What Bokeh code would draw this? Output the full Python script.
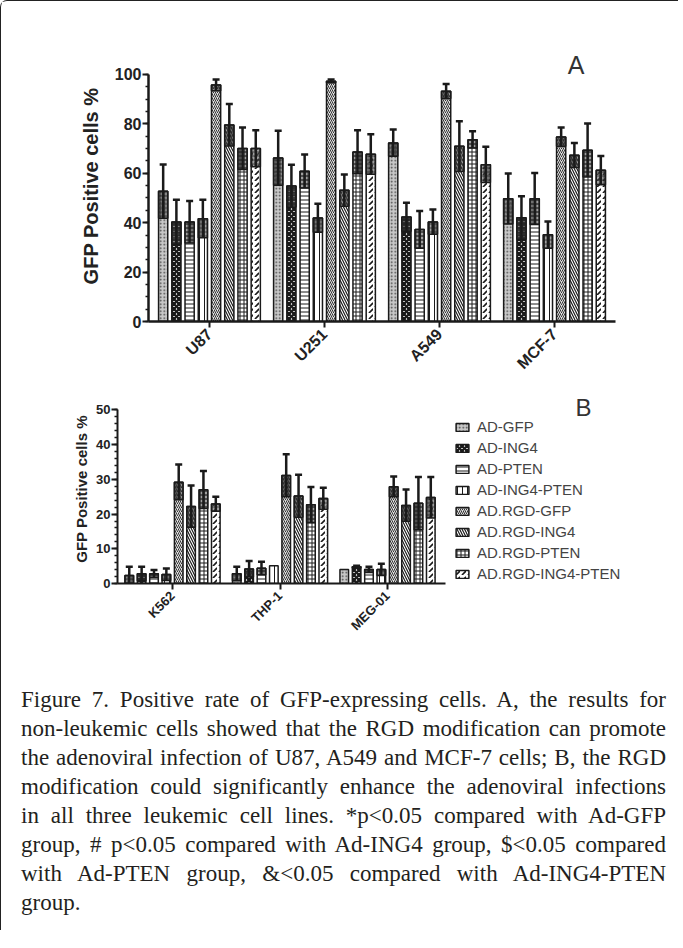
import html
from bokeh.plotting import figure
from bokeh.models import (ColumnDataSource, Range1d, FixedTicker, SingleIntervalTicker,
                          Legend, LegendItem, Label, Div, Spacer, Column)
from bokeh.embed import file_html
from bokeh.resources import INLINE

# ---------------- data ----------------
series = ["AD-GFP", "AD-ING4", "AD-PTEN", "AD-ING4-PTEN",
          "AD.RGD-GFP", "AD.RGD-ING4", "AD.RGD-PTEN", "AD.RGD-ING4-PTEN"]

cells_a = ["U87", "U251", "A549", "MCF-7"]
mean_a_gfp = [52.7, 66.2, 72.3, 49.7]
mean_a_ing4 = [40.3, 54.9, 42.3, 42.0]
mean_a_pten = [40.3, 60.8, 37.2, 49.7]
mean_a_ing4_pten = [41.6, 41.9, 40.3, 35.1]
mean_a_rgd_gfp = [95.7, 97.3, 93.2, 74.7]
mean_a_rgd_ing4 = [79.5, 53.1, 70.9, 67.3]
mean_a_rgd_pten = [70.0, 68.6, 73.6, 69.3]
mean_a_rgd_ing4_pten = [70.0, 67.7, 63.5, 61.2]
sd_a_gfp = [10.9, 11.0, 5.4, 10.2]
sd_a_ing4 = [9.0, 8.6, 5.8, 8.7]
sd_a_pten = [8.5, 6.8, 7.5, 10.4]
sd_a_ing4_pten = [7.7, 5.8, 5.0, 5.4]
sd_a_rgd_gfp = [2.3, 0.7, 2.9, 3.8]
sd_a_rgd_ing4 = [8.5, 6.4, 10.2, 5.0]
sd_a_rgd_pten = [8.5, 8.8, 3.4, 10.8]
sd_a_rgd_ing4_pten = [7.4, 8.1, 7.2, 5.8]

cells_b = ["K562", "THP-1", "MEG-01"]
mean_b_gfp = [2.3, 2.8, 4.0]
mean_b_ing4 = [2.8, 4.2, 4.8]
mean_b_pten = [2.8, 4.4, 4.0]
mean_b_ing4_pten = [2.6, 5.1, 4.0]
mean_b_rgd_gfp = [29.2, 31.1, 27.9]
mean_b_rgd_ing4 = [22.2, 25.2, 22.5]
mean_b_rgd_pten = [27.0, 22.7, 23.1]
mean_b_rgd_ing4_pten = [22.9, 24.5, 24.8]
sd_b_gfp = [2.5, 2.0, 0.0]
sd_b_ing4 = [2.0, 2.3, 0.3]
sd_b_pten = [1.1, 1.9, 0.8]
sd_b_ing4_pten = [1.7, 0.0, 1.7]
sd_b_rgd_gfp = [5.1, 6.1, 2.9]
sd_b_rgd_ing4 = [6.0, 6.1, 4.6]
sd_b_rgd_pten = [5.4, 5.1, 7.6]
sd_b_rgd_ing4_pten = [2.1, 3.1, 5.9]

means_a = [mean_a_gfp, mean_a_ing4, mean_a_pten, mean_a_ing4_pten,
           mean_a_rgd_gfp, mean_a_rgd_ing4, mean_a_rgd_pten, mean_a_rgd_ing4_pten]
sds_a = [sd_a_gfp, sd_a_ing4, sd_a_pten, sd_a_ing4_pten,
         sd_a_rgd_gfp, sd_a_rgd_ing4, sd_a_rgd_pten, sd_a_rgd_ing4_pten]
means_b = [mean_b_gfp, mean_b_ing4, mean_b_pten, mean_b_ing4_pten,
           mean_b_rgd_gfp, mean_b_rgd_ing4, mean_b_rgd_pten, mean_b_rgd_ing4_pten]
sds_b = [sd_b_gfp, sd_b_ing4, sd_b_pten, sd_b_ing4_pten,
         sd_b_rgd_gfp, sd_b_rgd_ing4, sd_b_rgd_pten, sd_b_rgd_ing4_pten]

caption_lines = [
    "Figure 7. Positive rate of GFP-expressing cells. A, the results for",
    "non-leukemic cells showed that the RGD modification can promote",
    "the adenoviral infection of U87, A549 and MCF-7 cells; B, the RGD",
    "modification could significantly enhance the adenoviral infections",
    "in all three leukemic cell lines. *p<0.05 compared with Ad-GFP",
    "group, # p<0.05 compared with Ad-ING4 group, $<0.05 compared",
    "with Ad-PTEN group, &<0.05 compared with Ad-ING4-PTEN",
    "group.",
]

# ---------------- styles ----------------
INK = "#1a1a1a"
FONT = "Liberation Sans"
PITCH = 0.115
BW = 0.08
styles = [
    dict(fill_color="#c8c8c8", hatch_pattern="dot", hatch_color="#444", hatch_scale=3.5, hatch_weight=1),
    dict(fill_color="white", hatch_pattern="diagonal_cross", hatch_color=INK, hatch_scale=5, hatch_weight=2.5),
    dict(fill_color="white", hatch_pattern="horizontal_line", hatch_color=INK, hatch_scale=4, hatch_weight=1),
    dict(fill_color="white", hatch_pattern="vertical_line", hatch_color=INK, hatch_scale=5, hatch_weight=1),
    dict(fill_color="#e0e0e0", hatch_pattern="right_diagonal_line", hatch_color="#333", hatch_scale=4, hatch_weight=1),
    dict(fill_color="white", hatch_pattern="left_diagonal_line", hatch_color=INK, hatch_scale=5, hatch_weight=1.2),
    dict(fill_color="white", hatch_pattern="cross", hatch_color=INK, hatch_scale=4, hatch_weight=1),
    dict(fill_color="white", hatch_pattern="right_diagonal_dash", hatch_color=INK, hatch_scale=6, hatch_weight=1.6),
]


def draw_bars(p, cats, means, sds):
    renderers = []
    for i, name in enumerate(series):
        xs = [g + (i - 3.5) * PITCH for g in range(len(cats))]
        m = means[i]
        s = sds[i]
        src = ColumnDataSource(dict(x=xs, top=m))
        r = p.vbar(x="x", top="top", bottom=0, width=BW, source=src,
                   line_color=INK, line_width=1.5, **styles[i])
        renderers.append(r)
        keep = [k for k in range(len(xs)) if s[k] > 0]
        esrc = ColumnDataSource(dict(x=[xs[k] for k in keep], top=[m[k] for k in keep],
                                     lo=[m[k] - s[k] for k in keep], hi=[m[k] + s[k] for k in keep]))
        p.vbar(x="x", top="top", bottom="lo", width=BW, source=esrc,
               fill_color="#505050", fill_alpha=0.55, hatch_pattern="cross",
               hatch_color=INK, hatch_scale=4, hatch_alpha=0.7,
               line_color=INK, line_width=1.5)
        p.segment(x0="x", y0="lo", x1="x", y1="hi", source=esrc, line_color=INK, line_width=2.5)
        p.scatter(x="x", y="hi", source=esrc, marker="dash", size=7, line_color=INK, line_width=2.5)
    return renderers


def style_axes(p, cats, tick_size, ylab_size, xlab_size, axis_w, standoff):
    p.xgrid.visible = False
    p.ygrid.visible = False
    p.outline_line_color = None
    for ax in (p.xaxis[0], p.yaxis[0]):
        ax.axis_line_width = axis_w
        ax.axis_line_color = INK
        ax.major_tick_line_width = 2
        ax.major_tick_line_color = INK
        ax.major_tick_out = 6
        ax.major_tick_in = 0
        ax.minor_tick_out = 3
        ax.minor_tick_in = 0
        ax.minor_tick_line_width = 1.5
        ax.minor_tick_line_color = INK
        ax.major_label_text_font = FONT
        ax.major_label_text_font_style = "bold"
        ax.major_label_text_color = "#222"
    p.xaxis.ticker = FixedTicker(ticks=list(range(len(cats))))
    p.xaxis.major_label_overrides = {i: c for i, c in enumerate(cats)}
    p.xaxis.major_label_orientation = 0.785
    p.xaxis.major_label_text_font_size = xlab_size
    p.xaxis.major_label_standoff = 4
    p.yaxis.major_label_text_font_size = tick_size
    p.yaxis.major_label_standoff = 1
    p.yaxis.axis_label_text_font = FONT
    p.yaxis.axis_label_text_font_style = "bold"
    p.yaxis.axis_label_text_font_size = ylab_size
    p.yaxis.axis_label_text_color = "#222"
    p.yaxis.axis_label_standoff = standoff


def no_align(p):
    if "frame_align" in p.properties():
        p.frame_align = False


# ---------------- panel A ----------------
pa = figure(width=667, height=391, output_backend="svg", toolbar_location=None,
            x_range=Range1d(-0.53, 3.53), y_range=Range1d(0, 109.7),
            min_border_left=147, min_border_right=53, min_border_top=49, min_border_bottom=71)
no_align(pa)
draw_bars(pa, cells_a, means_a, sds_a)
style_axes(pa, cells_a, "16px", "20px", "16px", 2.5, 10)
pa.yaxis.ticker = SingleIntervalTicker(interval=20, num_minor_ticks=4)
pa.yaxis.bounds = (0, 100)
pa.yaxis.axis_label = "GFP Positive cells %"
pa.add_layout(Label(x=427.5, y=257, x_units="screen", y_units="screen", text="A",
                    text_font=FONT, text_font_size="25px", text_color="#333",
                    text_align="center", text_baseline="middle"))

# ---------------- panel B ----------------
pb = figure(width=667, height=249, output_backend="svg", toolbar_location=None,
            x_range=Range1d(-0.512, 4.521), y_range=Range1d(0, 54.44),
            min_border_left=116, min_border_right=10, min_border_top=2, min_border_bottom=51)
no_align(pb)
rb = draw_bars(pb, cells_b, means_b, sds_b)
style_axes(pb, cells_b, "13px", "15px", "13px", 2, 3)
pb.yaxis.ticker = SingleIntervalTicker(interval=10, num_minor_ticks=5)
pb.yaxis.bounds = (0, 50)
pb.xaxis.bounds = (-0.512, 2.54)
pb.yaxis.axis_label = "GFP Positive cells %"
pb.add_layout(Label(x=466, y=176.5, x_units="screen", y_units="screen", text="B",
                    text_font=FONT, text_font_size="24px", text_color="#333",
                    text_align="center", text_baseline="middle"))
legend = Legend(items=[LegendItem(label=s, renderers=[r]) for s, r in zip(series, rb)],
                location=(337, 1), glyph_width=16, glyph_height=10, label_standoff=7,
                spacing=4, padding=0, margin=0, border_line_color=None,
                background_fill_alpha=0, label_text_font=FONT, label_text_font_size="15px",
                label_text_color="#444", label_height=17)
pb.add_layout(legend)

# ---------------- caption ----------------
rows = []
for k, line in enumerate(caption_lines):
    last = "left" if k == len(caption_lines) - 1 else "justify"
    rows.append('<div style="text-align:justify;text-align-last:%s;">%s</div>' % (last, html.escape(line)))
cap_html = ('<div style="margin-left:15px;width:645px;font-family:\'Liberation Serif\';'
            'font-size:23px;line-height:29px;color:#231f20;">' + "".join(rows) + "</div>")
cap = Div(text=cap_html, width=667, height=240)

page = Column(children=[pa, pb, Spacer(height=39), cap],
              styles={"border-left": "1.5px solid #222", "border-top": "1.5px solid #222",
                      "border-top-left-radius": "7px"})

with open("out.html", "w") as f:
    f.write(file_html(page, INLINE))
